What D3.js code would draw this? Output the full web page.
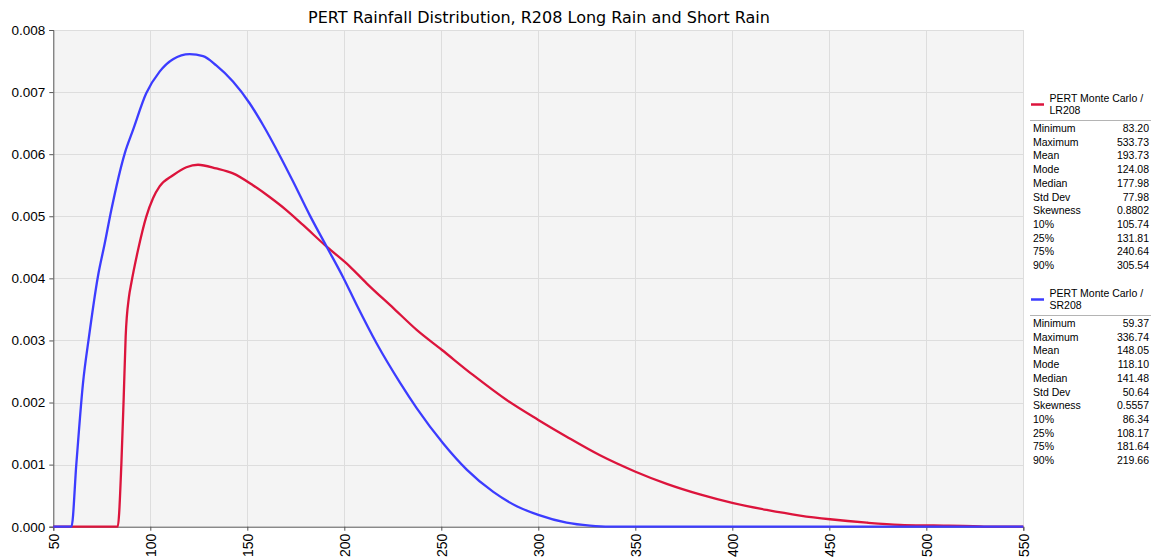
<!DOCTYPE html>
<html>
<head>
<meta charset="utf-8">
<script src="https://cdn.jsdelivr.net/npm/d3@7"></script>
<style>
  html, body { margin: 0; padding: 0; background: #ffffff; }
  svg { display: block; }
  text { font-family: "Liberation Sans", Arial, sans-serif; fill: #000; }
</style>
</head>
<body>
<svg id="chart" width="1156" height="560"></svg>
<script>
// Probability density (rainfall mm -> density), Long Rain season R208
const lrDensity = [
  [50, 0], [83.2, 0], [85.1, 0.00102], [86.3, 0.00209], [87.3, 0.00306],
  [89.0, 0.0037], [90.2, 0.00392], [93.7, 0.00446], [97.9, 0.00499],
  [101.4, 0.00529], [104.8, 0.00548], [111.7, 0.00566], [118.6, 0.00579],
  [124.6, 0.00583], [134.0, 0.00577], [142.6, 0.00569], [152.9, 0.0055],
  [161.5, 0.00531], [170.1, 0.0051], [178.7, 0.00486], [190.9, 0.00451],
  [202.9, 0.00419], [211.5, 0.00392], [225.3, 0.00352], [237.3, 0.00317],
  [250.2, 0.00285], [266.5, 0.00244], [283.7, 0.00204], [300.0, 0.00172],
  [314.6, 0.00145], [331.8, 0.00115], [349.8, 0.00089], [366.2, 0.00069],
  [383.3, 0.00052], [400.5, 0.00038], [417.7, 0.00027], [434.9, 0.00018],
  [450.4, 0.00012], [469.3, 0.000065], [486.4, 0.00003], [503.6, 0.00002],
  [524.2, 0.00001], [533.73, 0], [550, 0]
];

// Probability density, Short Rain season R208
const srDensity = [
  [50, 0], [59.37, 0], [61.9, 0.00102], [65.3, 0.00231], [68.4, 0.00306],
  [73.0, 0.00403], [76.5, 0.00456], [79.9, 0.0051], [86.8, 0.00601],
  [91.1, 0.00639], [97.9, 0.00698], [104.8, 0.00733], [111.7, 0.00753],
  [120.3, 0.00761], [127.2, 0.00758], [134.0, 0.00743], [142.6, 0.00717],
  [151.2, 0.00682], [158.1, 0.00647], [166.7, 0.00598], [173.6, 0.00556],
  [182.3, 0.00501], [190.9, 0.00451], [199.5, 0.00401], [206.4, 0.00357],
  [216.7, 0.00295], [228.7, 0.00232], [237.3, 0.00191], [251.0, 0.00134],
  [263.1, 0.00092], [276.8, 0.00056], [288.9, 0.00033], [300.0, 0.00019],
  [314.6, 0.000064], [326.6, 0.000016], [336.74, 0], [550, 0]
];

const xTicks = [50, 100, 150, 200, 250, 300, 350, 400, 450, 500, 550];
const yTicks = [0, 0.001, 0.002, 0.003, 0.004, 0.005, 0.006, 0.007, 0.008];

const statLabels = ["Minimum", "Maximum", "Mean", "Mode", "Median", "Std Dev",
                    "Skewness", "10%", "25%", "75%", "90%"];
const lrStats = ["83.20", "533.73", "193.73", "124.08", "177.98", "77.98",
                 "0.8802", "105.74", "131.81", "240.64", "305.54"];
const srStats = ["59.37", "336.74", "148.05", "118.10", "141.48", "50.64",
                 "0.5557", "86.34", "108.17", "181.64", "219.66"];

const seriesNames = [["PERT Monte Carlo /", "LR208"], ["PERT Monte Carlo /", "SR208"]];
const seriesColors = ["#dc143c", "#3c3cff"];

const svg = d3.select("#chart");
const plot = { left: 53.3, right: 1023.3, top: 30, bottom: 526.7 };

const x = d3.scaleLinear().domain([50, 550]).range([plot.left, plot.right]);
const y = d3.scaleLinear().domain([0, 0.008]).range([plot.bottom, plot.top]);

// plot background
svg.append("rect")
  .attr("x", plot.left).attr("y", plot.top)
  .attr("width", plot.right - plot.left).attr("height", plot.bottom - plot.top)
  .attr("fill", "#f4f4f4");

// grid
const grid = svg.append("g").attr("stroke", "#dddddd").attr("stroke-width", 1);
grid.selectAll(".gx").data(xTicks.slice(1)).join("line")
  .attr("x1", d => Math.round(x(d)) + 0.5).attr("x2", d => Math.round(x(d)) + 0.5)
  .attr("y1", plot.top).attr("y2", plot.bottom);
grid.selectAll(".gy").data(yTicks.slice(1)).join("line")
  .attr("x1", plot.left).attr("x2", plot.right)
  .attr("y1", d => Math.round(y(d)) + 0.5).attr("y2", d => Math.round(y(d)) + 0.5);

// title
svg.append("text")
  .attr("x", 539).attr("y", 23)
  .attr("text-anchor", "middle")
  .style("font-family", "'DejaVu Sans', Verdana, sans-serif")
  .style("font-size", "16px")
  .text("PERT Rainfall Distribution, R208 Long Rain and Short Rain");

// axes
const yAxis = d3.axisLeft(y).tickValues(yTicks).tickFormat(d3.format(".3f"))
  .tickSize(4).tickPadding(4);
const gy = svg.append("g").attr("transform", `translate(${plot.left},0)`).call(yAxis);
gy.selectAll("text").style("font-size", "13.5px").style("font-family", "Liberation Sans, Arial, sans-serif");

const xAxis = d3.axisBottom(x).tickValues(xTicks).tickFormat(d3.format("d"))
  .tickSize(4).tickPadding(4);
const gx = svg.append("g").attr("transform", `translate(0,${plot.bottom})`).call(xAxis);
gx.selectAll("text")
  .style("font-size", "14px").style("font-family", "Liberation Sans, Arial, sans-serif")
  .attr("text-anchor", "end")
  .attr("transform", "rotate(-90)")
  .attr("x", -7).attr("y", 0).attr("dy", "0.35em");

[gx, gy].forEach(g => {
  g.select(".domain").attr("stroke", "#555");
  g.selectAll(".tick line").attr("stroke", "#555");
});

// density curves
const line = d3.line()
  .x(d => x(d[0])).y(d => y(d[1]))
  .curve(d3.curveMonotoneX);

[lrDensity, srDensity].forEach((data, i) => {
  svg.append("path")
    .datum(data)
    .attr("fill", "none")
    .attr("stroke", seriesColors[i])
    .attr("stroke-width", 2.3)
    .attr("stroke-linejoin", "round")
    .attr("d", line);
});

// legend blocks with summary statistics
const legend = svg.append("g").style("font-size", "10.5px");
[lrStats, srStats].forEach((stats, i) => {
  const oy = 85 + i * 195;
  const g = legend.append("g").attr("transform", `translate(0,${oy})`);
  g.append("line")
    .attr("x1", 1031).attr("x2", 1044).attr("y1", 19.5).attr("y2", 19.5)
    .attr("stroke", seriesColors[i]).attr("stroke-width", 2.5);
  g.append("text").attr("x", 1049.5).attr("y", 17).text(seriesNames[i][0]);
  g.append("text").attr("x", 1049.5).attr("y", 29).text(seriesNames[i][1]);
  g.append("line")
    .attr("x1", 1030).attr("x2", 1151).attr("y1", 35.5).attr("y2", 35.5)
    .attr("stroke", "#b4b4b4").attr("stroke-width", 1);
  statLabels.forEach((lab, k) => {
    const ty = 47 + k * 13.7;
    g.append("text").attr("x", 1033).attr("y", ty).text(lab);
    g.append("text").attr("x", 1149).attr("y", ty).attr("text-anchor", "end").text(stats[k]);
  });
});
</script>
</body>
</html>
